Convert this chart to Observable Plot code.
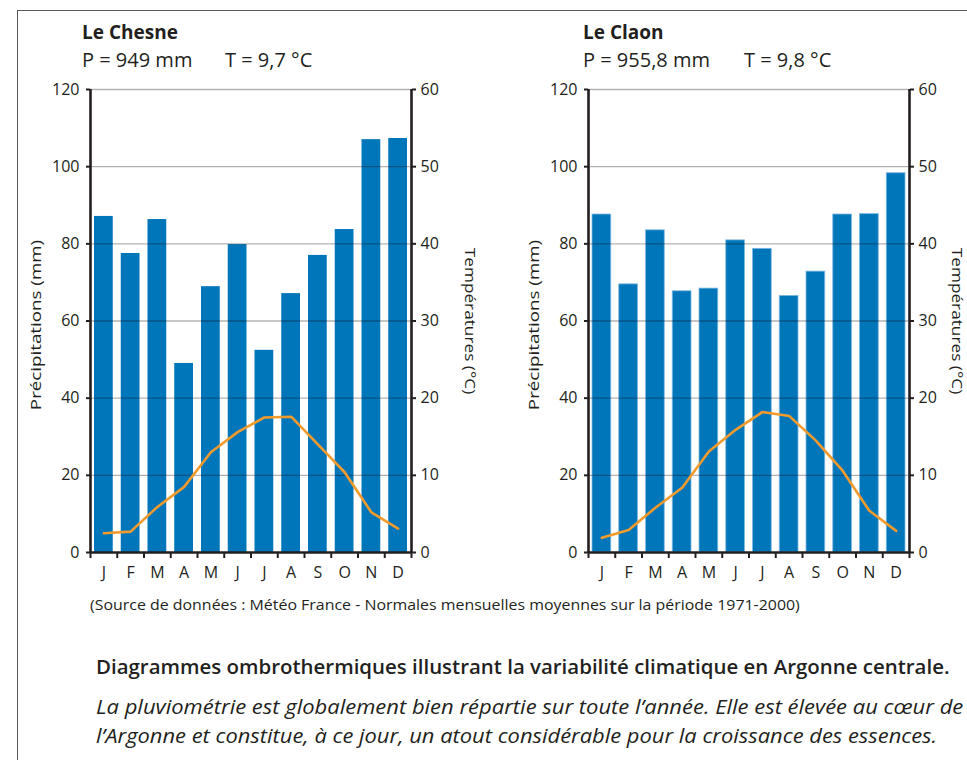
<!DOCTYPE html>
<html><head><meta charset="utf-8">
<script src="https://cdn.jsdelivr.net/npm/d3@7"></script>
<script src="https://cdn.jsdelivr.net/npm/@observablehq/plot@0.6"></script>
<style>
html,body{margin:0;padding:0;background:#fff;overflow:hidden;}
#page{position:relative;width:967px;height:760px;overflow:hidden;font-family:"Open Sans",sans-serif;color:#231f20;background:#fff;}
.t{position:absolute;white-space:nowrap;line-height:1;}
.frameTop{position:absolute;left:17px;top:10px;right:0;height:0;border-top:1.5px solid #58595b;}
.frameLeft{position:absolute;left:17px;top:10px;bottom:0;width:0;border-left:1.5px solid #58595b;}
svg{overflow:visible;}
</style></head><body><div id="page"><div class="frameTop"></div><div class="frameLeft"></div></div>
<script>
// ---- data ----
const months = ["J","F","M","A","M","J","J","A","S","O","N","D"];
const chesnePrecip = [87.1, 77.5, 86.3, 49.0, 68.9, 79.8, 52.4, 67.1, 77.0, 83.7, 107.0, 107.3];
const chesneTemp   = [2.5, 2.7, 5.9, 8.5, 13.0, 15.6, 17.5, 17.6, 14.0, 10.4, 5.2, 3.1];
const claonPrecip  = [87.6, 69.5, 83.5, 67.7, 68.4, 80.9, 78.7, 66.5, 72.8, 87.6, 87.7, 98.3];
const claonTemp    = [1.9, 2.9, 5.8, 8.4, 13.1, 15.9, 18.2, 17.7, 14.5, 10.6, 5.4, 2.8];
const precipTicks  = [0, 20, 40, 60, 80, 100, 120];
const stationNames = ["Le Chesne", "Le Claon"];
const totalsP      = ["P = 949 mm", "P = 955,8 mm"];
const meansT       = ["T = 9,7 °C", "T = 9,8 °C"];
const yLabel = "Précipitations (mm)";
const y2Label = "Températures (°C)";
const sourceText = "(Source de données : Météo France - Normales mensuelles moyennes sur la période 1971-2000)";
const captionTitle = "Diagrammes ombrothermiques illustrant la variabilité climatique en Argonne centrale.";
const captionLines = ["La pluviométrie est globalement bien répartie sur toute l’année. Elle est élevée au cœur de",
                      "l’Argonne et constitue, à ce jour, un atout considérable pour la croissance des essences."];

const page = document.getElementById("page");
const BAR = "#0076ba", LINE = "#f39a2d", INK = "#231f20";

function chart(precip, temp, width, marginRight, edge) {
  const data = months.map((m, i) => ({i, m, p: precip[i], t: temp[i]}));
  return Plot.plot({
    width, height: 600,
    marginLeft: 90, marginRight, marginTop: 89, marginBottom: 48,
    x: {type: "linear", domain: [0, 12]},
    y: {domain: [0, 120]},
    style: {fontFamily: "'Open Sans', sans-serif", fontSize: "16px", color: INK, background: "transparent", overflow: "visible"},
    marks: [
      Plot.rectY(data, {x1: d => d.i, x2: d => d.i + 1, y1: 0, y2: "p", fill: BAR,
        insetLeft: 4, insetRight: 4, stroke: edge ? "#7db9e2" : "none", strokeWidth: 0.8}),
      Plot.ruleY(precipTicks.slice(1), {stroke: "#000", strokeOpacity: 0.3, strokeWidth: 1.3}),
      Plot.line(data, {x: d => d.i + 0.5, y: d => d.t * 2, stroke: LINE, strokeWidth: 2.6}),
      Plot.ruleX([0, 12], {y1: 0, y2: 120, stroke: INK, strokeWidth: 2.6}),
      Plot.ruleY([0], {stroke: INK, strokeWidth: 2.6}),
      Plot.axisX(d3.range(13), {tickSize: 6, tickFormat: () => "", strokeWidth: 2, label: null}),
      Plot.axisX(d3.range(12).map(i => i + 0.5), {tickSize: 0, tickPadding: 14, tickFormat: d => months[Math.floor(d)], label: null}),
      Plot.axisY(precipTicks, {anchor: "left", tickSize: 4, tickPadding: 7, strokeWidth: 2, label: null}),
      Plot.axisY(precipTicks, {anchor: "right", tickSize: 4, tickPadding: 5, strokeWidth: 2, tickFormat: d => d / 2, label: null})
    ]
  });
}

function place(el, left, top) {
  el.style.position = "absolute"; el.style.left = left + "px"; el.style.top = top + "px";
  page.appendChild(el);
}
const c1 = chart(chesnePrecip, chesneTemp, 480, 69, false);
place(c1, 0, 0);
const c2 = chart(claonPrecip, claonTemp, 469, 58, true);
place(c2, 498, 0);

function text(str, {left, top, size, weight = 400, style = "normal", fit = null, rotate = 0, family = null}) {
  const d = document.createElement("div");
  d.className = "t";
  d.textContent = str;
  d.style.fontSize = size + "px";
  d.style.fontWeight = weight;
  d.style.fontStyle = style;
  if (family) d.style.fontFamily = family;
  d.style.left = left + "px";
  d.style.top = top + "px";
  page.appendChild(d);
  let s = 1;
  if (fit) s = fit / d.offsetWidth;
  if (rotate) {
    d.style.transform = `translate(-50%,-50%) rotate(${rotate}deg) scaleX(${s})`;
  } else if (fit) {
    d.style.transformOrigin = "0 0";
    d.style.transform = `scaleX(${s})`;
  }
  return d;
}

const offsets = [0, 501];
stationNames.forEach((n, k) => {
  const ox = offsets[k];
  text(n, {left: 82 + ox, top: 23, size: 19, weight: 700});
  text(totalsP[k], {left: 82 + ox, top: 50, size: 20});
  text(meansT[k], {left: 225 + ox + (k ? 18 : 0), top: 50, size: 20});
});
[0, 498].forEach((ox, k) => {
  text(yLabel, {left: 35 + ox, top: 325, size: 15, rotate: -90, fit: 170});
  text(y2Label, {left: k ? 957 : 470, top: 321, size: 15, rotate: 90, fit: 147});
});

text(sourceText, {left: 90, top: 597, size: 15, fit: 710});
text(captionTitle, {left: 96, top: 657, size: 20, weight: 600, fit: 854});
text(captionLines[0], {left: 96, top: 697, size: 20, style: "italic", fit: 867});
text(captionLines[1], {left: 96, top: 726, size: 20, style: "italic", fit: 841});
</script>
</body></html>
